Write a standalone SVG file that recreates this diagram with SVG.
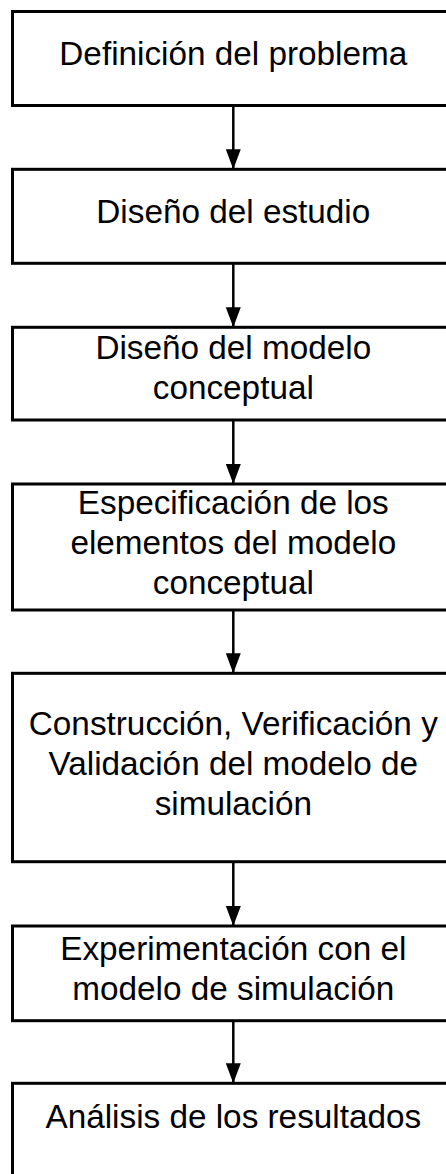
<svg xmlns="http://www.w3.org/2000/svg" width="446" height="1174" viewBox="0 0 446 1174">
<style>
.box{fill:#fff;stroke:#000;stroke-width:3}
.lbl{font-family:"Liberation Sans",Arial,sans-serif;font-size:33.3px;fill:#000;text-anchor:middle}
.conn{stroke:#000;stroke-width:2.5;fill:none;marker-end:url(#ah)}
</style>
<defs>
<marker id="ah" markerUnits="userSpaceOnUse" markerWidth="20" markerHeight="26" refX="24" refY="9" viewBox="0 0 24 18" orient="auto">
<path d="M0,0 L24,9 L0,18 Z" fill="#000"/>
</marker>
</defs>
<rect width="446" height="1174" fill="#fff"/>
<g id="connectors">
<line class="conn" x1="233.3" y1="105.5" x2="233.3" y2="169.3"/>
<line class="conn" x1="233.3" y1="263.3" x2="233.3" y2="327.3"/>
<line class="conn" x1="233.3" y1="420" x2="233.3" y2="484"/>
<line class="conn" x1="233.3" y1="610" x2="233.3" y2="673.3"/>
<line class="conn" x1="233.3" y1="861.7" x2="233.3" y2="926"/>
<line class="conn" x1="233.3" y1="1020.7" x2="233.3" y2="1083.3"/>
</g>
<g id="n1">
<rect class="box" x="12.5" y="11.5" width="441.5" height="94"/>
<text class="lbl" x="233.3" y="65">Definición del problema</text>
</g>
<g id="n2">
<rect class="box" x="12.5" y="169.3" width="441.5" height="94"/>
<text class="lbl" x="233.3" y="223.3">Diseño del estudio</text>
</g>
<g id="n3">
<rect class="box" x="12.5" y="327.3" width="441.5" height="92.7"/>
<text class="lbl" x="233.3" y="359.3">Diseño del modelo</text>
<text class="lbl" x="233.3" y="399.3">conceptual</text>
</g>
<g id="n4">
<rect class="box" x="12.5" y="484" width="441.5" height="126"/>
<text class="lbl" x="233.3" y="513.5">Especificación de los</text>
<text class="lbl" x="233.3" y="553.5">elementos del modelo</text>
<text class="lbl" x="233.3" y="593.5">conceptual</text>
</g>
<g id="n5">
<rect class="box" x="12.5" y="673.3" width="441.5" height="188.4"/>
<text class="lbl" x="233.3" y="735">Construcción, Verificación y</text>
<text class="lbl" x="233.3" y="775">Validación del modelo de</text>
<text class="lbl" x="233.3" y="815">simulación</text>
</g>
<g id="n6">
<rect class="box" x="12.5" y="926" width="441.5" height="94.7"/>
<text class="lbl" x="233.3" y="960">Experimentación con el</text>
<text class="lbl" x="233.3" y="1000">modelo de simulación</text>
</g>
<g id="n7">
<rect class="box" x="12.5" y="1083.3" width="441.5" height="100"/>
<text class="lbl" x="233.3" y="1128">Análisis de los resultados</text>
</g>
</svg>
